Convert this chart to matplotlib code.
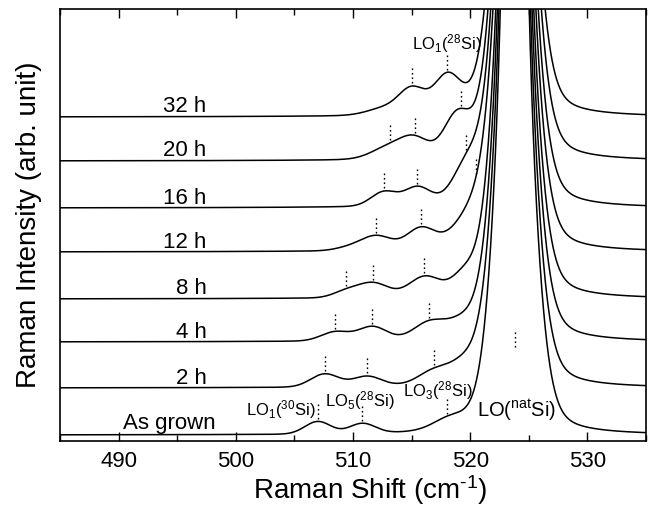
import numpy as np
import matplotlib
matplotlib.use('Agg')
import matplotlib.pyplot as plt
from matplotlib.ticker import MultipleLocator

plt.rcParams['font.family'] = ['Liberation Sans', 'DejaVu Sans']
plt.rcParams['mathtext.fontset'] = 'custom'
plt.rcParams['mathtext.rm'] = 'Liberation Sans'
plt.rcParams['mathtext.it'] = 'Liberation Sans:italic'
plt.rcParams['mathtext.bf'] = 'Liberation Sans:bold'

# spectra, bottom to top (vertical offsets in arb. units)
labels = ['As grown', '2 h', '4 h', '8 h', '12 h', '16 h', '20 h', '32 h']
offsets = [6, 53, 99, 142, 189, 233, 280, 324]

# strong LO(natSi) line, same for every spectrum
main_pos = 523.8
main_lor = 300.0
main_gau = 338.0
main_sig = 1.42

# weak LO modes of each spectrum: position, height, width
peak_pos = [
    [507.0, 510.8, 518.3],
    [507.6, 511.2, 516.9, 519.6],
    [508.5, 511.65, 516.5, 519.3],
    [509.4, 511.7, 516.1, 519.5],
    [509.7, 512.0, 515.8, 520.2],
    [512.65, 515.5, 519.8],
    [513.16, 515.3, 518.9],
    [512.8, 515.07, 518.06],
]
peak_amp = [
    [12.5, 10, 10],
    [13, 10, 12, 15],
    [9, 13.5, 15, 11],
    [6, 14, 18, 14],
    [3, 14, 20, 26],
    [14, 17, 33],
    [12, 17, 38],
    [7, 24, 35],
]
peak_sig = [
    [1.1, 1.1, 1.4],
    [1.2, 1.2, 1.3, 1.3],
    [1.2, 1.2, 1.3, 1.3],
    [1.1, 1.3, 1.3, 1.0],
    [1.2, 1.3, 1.2, 1.5],
    [1.1, 1.1, 1.2],
    [1.5, 1.2, 1.1],
    [1.5, 1.1, 1.1],
]

# dotted marks above the fitted peak positions
mark_pos = [
    [507.0, 510.8, 518.0],
    [507.6, 511.2, 516.9],
    [508.5, 511.65, 516.5],
    [509.4, 511.7, 516.1],
    [512.0, 515.8, 520.5],
    [512.65, 515.5, 519.66],
    [513.16, 515.3, 519.23],
    [515.07, 518.06],
]
nat_mark = 523.85


def spectrum(x, i):
    d = x - main_pos
    y = main_lor / (d**2 + 0.02) + main_gau * np.exp(-d**2 / (2 * main_sig**2))
    for c, a, s in zip(peak_pos[i], peak_amp[i], peak_sig[i]):
        y = y + a * np.exp(-(x - c)**2 / (2 * s**2))
    return offsets[i] + y


fig = plt.figure(figsize=(6.57, 5.08), dpi=100)
ax = fig.add_axes([60 / 657, 67 / 508, 586 / 657, 432.5 / 508])

x = np.linspace(485, 535, 5001)
dots = (0, (1.2, 2.0))
for i, lab in enumerate(labels):
    ax.plot(x, spectrum(x, i), color='k', lw=1.1)
    for mx in mark_pos[i]:
        y0 = spectrum(np.array([mx]), i)[0] + 2.5
        ax.plot([mx, mx], [y0, y0 + 15], color='k', lw=1.0, ls=dots)
    if i == 0:
        ax.text(498.3, offsets[i] + 6, lab, fontsize=16, ha='right', va='baseline')
    else:
        ax.text(497.5, offsets[i] + 4.5, lab, fontsize=16, ha='right', va='baseline')

ax.plot([nat_mark, nat_mark], [94, 109], color='k', lw=1.0, ls=dots)

# mode labels
ax.text(515.0, 391.7, r'LO$_1$($^{28}$Si)', fontsize=12, va='baseline')
ax.text(500.9, 26, r'LO$_1$($^{30}$Si)', fontsize=12, va='baseline')
ax.text(507.6, 34.3, r'LO$_5$($^{28}$Si)', fontsize=12, va='baseline')
ax.text(514.3, 44.3, r'LO$_3$($^{28}$Si)', fontsize=12, va='baseline')
ax.text(520.6, 24, r'LO($^{\mathrm{nat}}$Si)', fontsize=14.5, va='baseline')

ax.set_xlim(485, 535)
ax.set_ylim(0, 432.5)
ax.set_xticks(np.arange(490, 531, 10))
ax.xaxis.set_minor_locator(MultipleLocator(5))
ax.set_yticks([])
ax.tick_params(axis='x', which='both', direction='in', top=True, labelsize=16, pad=7, width=1.0)
ax.tick_params(axis='x', which='major', length=6.5)
ax.tick_params(axis='x', which='minor', length=4.5)
for sp in ax.spines.values():
    sp.set_linewidth(1.2)

ax.set_xlabel(r'Raman Shift (cm$^{\text{-1}}$)', fontsize=20)
ax.set_ylabel('Raman Intensity (arb. unit)', fontsize=20)
ax.xaxis.set_label_coords(0.529, -0.075)
ax.yaxis.set_label_coords(-0.03, 0.5)

fig.savefig('out.png', dpi=100)
